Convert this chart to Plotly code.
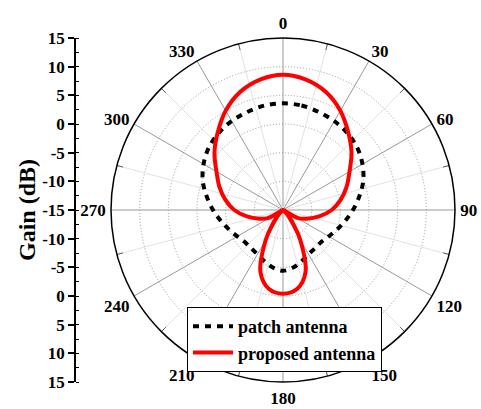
import plotly.graph_objects as go

# ---- data ----
theta_red = [0, 10, 20, 30, 40, 50, 60, 70, 80, 90, 100, 110, 118, 127, 135, 145, 150, 160, 170, 180,
             190, 200, 210, 215, 225, 233, 242, 250, 260, 270, 280, 290, 300, 310, 320, 330, 340, 350, 360]
gain_proposed = [8.6, 8.1, 6.9, 5.0, 2.7, 0.6, -1.6, -3.2, -4.8, -6.5, -8.6, -10.6, -12.0, -15.0, -14.0, -11.5, -9.0, -3.5, -1.0, -0.4,
                 -1.0, -3.5, -9.0, -11.5, -14.0, -15.0, -12.0, -10.6, -8.6, -6.5, -4.8, -3.2, -1.6, 0.6, 2.7, 5.0, 6.9, 8.1, 8.6]

theta_black = [0, 10, 20, 30, 40, 50, 60, 70, 80, 90, 100, 110, 120, 130, 140, 150, 160, 170, 180,
               190, 200, 210, 220, 230, 240, 250, 260, 270, 280, 290, 300, 310, 320, 330, 340, 350, 360]
gain_patch = [3.6, 3.5, 3.2, 2.9, 2.5, 1.9, 1.0, -0.1, -1.5, -2.8, -4.0, -5.0, -5.8, -6.3, -6.3, -6.1, -5.5, -4.8, -4.4,
              -4.8, -5.5, -6.1, -6.3, -6.3, -5.8, -5.0, -4.0, -2.8, -1.5, -0.1, 1.0, 1.9, 2.5, 2.9, 3.2, 3.5, 3.6]

angle_ticks = [0, 30, 60, 90, 120, 150, 180, 210, 240, 270, 300, 330]
angle_labels = [str(a) for a in angle_ticks]
left_tickvals = [30, 25, 20, 15, 10, 5, 0, -5, -10, -15, -20, -25, -30]
left_ticktext = ["15", "10", "5", "0", "-5", "-10", "-15", "-10", "-5", "0", "5", "10", "15"]

FONT = "Times New Roman, Liberation Serif, serif"

fig = go.Figure()

# minor 15-degree spokes
mr, mt = [], []
for a in range(15, 360, 30):
    mr += [-15, 15, None]
    mt += [a, a, None]
fig.add_trace(go.Scatterpolar(r=mr, theta=mt, mode="lines", line=dict(color="#e2e2e2", width=1),
                              showlegend=False, hoverinfo="skip"))
# small inside ticks on the outer circle at the 15-degree positions
tr, tt = [], []
for a in range(15, 360, 30):
    tr += [13.9, 15, None]
    tt += [a, a, None]
fig.add_trace(go.Scatterpolar(r=tr, theta=tt, mode="lines", line=dict(color="#555555", width=1),
                              showlegend=False, hoverinfo="skip"))

fig.add_trace(go.Scatterpolar(r=gain_patch, theta=theta_black, mode="lines", name="patch antenna",
                              line=dict(color="black", width=4, dash="6px,6px", shape="spline")))
fig.add_trace(go.Scatterpolar(r=gain_proposed, theta=theta_red, mode="lines", name="proposed antenna",
                              line=dict(color="#ff0000", width=4, shape="spline")))

# invisible trace for the left linear gain axis
fig.add_trace(go.Scatter(x=[0.5], y=[0], mode="markers", marker=dict(opacity=0), showlegend=False,
                         hoverinfo="skip", xaxis="x", yaxis="y"))

ydom = [27 / 409, 371 / 409]
fig.update_layout(
    width=481, height=409,
    margin=dict(l=0, r=0, t=0, b=0, pad=0, autoexpand=False),
    paper_bgcolor="white", plot_bgcolor="white",
    font=dict(family=FONT, color="black", size=17),
    polar=dict(
        domain=dict(x=[111 / 481, 455 / 481], y=ydom),
        bgcolor="white",
        angularaxis=dict(
            rotation=90, direction="clockwise",
            tickmode="array", tickvals=angle_ticks, ticktext=angle_labels,
            showline=True, linecolor="black", linewidth=1.5,
            showgrid=True, gridcolor="#999999", gridwidth=1,
            ticks="outside", ticklen=1, tickcolor="rgba(0,0,0,0)",
            tickfont=dict(family=FONT, size=17, color="black", weight="bold"),
        ),
        radialaxis=dict(
            range=[-15, 15], tickmode="array", tickvals=[-10, -5, 0, 5, 10],
            showticklabels=False, ticks="", showline=False,
            gridcolor="#999999", gridwidth=1, griddash="1px,2px",
        ),
    ),
    xaxis=dict(domain=[76 / 481, 0.2], visible=False, range=[0, 1], fixedrange=True, automargin=False),
    yaxis=dict(
        domain=ydom, range=[-30, 30], anchor="x", side="left", automargin=False,
        tickmode="array", tickvals=left_tickvals, ticktext=left_ticktext,
        showline=True, linecolor="black", linewidth=1.5,
        ticks="outside", ticklen=6, tickwidth=1.5, tickcolor="black",
        minor=dict(ticks="inside", ticklen=3, tickwidth=1, tickcolor="black", dtick=2.5, showgrid=False),
        showgrid=False, zeroline=False,
        tickfont=dict(family=FONT, size=17, color="black", weight="bold"),
        title=dict(text="Gain (dB)", font=dict(family=FONT, size=24, color="black", weight="bold"), standoff=0),
    ),
    legend=dict(
        x=187 / 481, y=1 - 307 / 409, xanchor="left", yanchor="top",
        bgcolor="white", bordercolor="black", borderwidth=1,
        font=dict(family=FONT, size=18, color="black", weight="bold"),
        tracegroupgap=0, itemwidth=40,
    ),
    showlegend=True,
)

fig.write_html("out.html")
